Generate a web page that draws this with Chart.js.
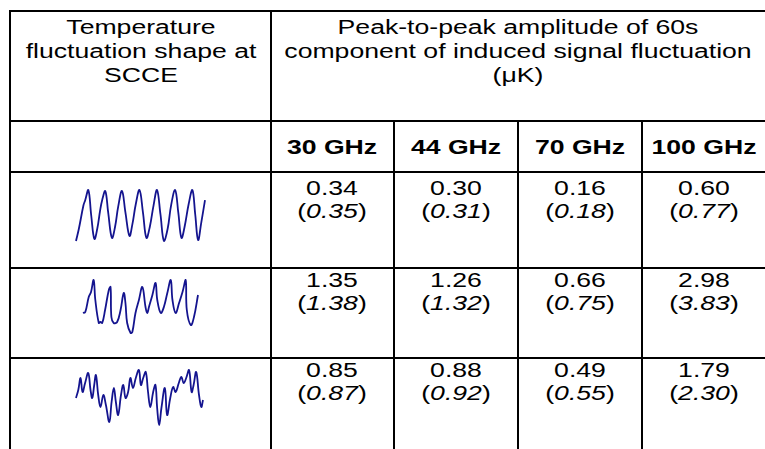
<!DOCTYPE html>
<html>
<head>
<meta charset="utf-8">
<script src="https://cdn.jsdelivr.net/npm/chart.js@4"></script>
<style>
  body { margin: 0; background: #fff; width: 765px; height: 449px; overflow: hidden; position: relative; font-family: "Liberation Sans", Arial, sans-serif; color: #000; }
  .hl { position: absolute; height: 2px; background: #000; }
  .vl { position: absolute; width: 2px; background: #000; }
  .txt { position: absolute; white-space: nowrap; font-size: 20px; line-height: 23px; transform: translate(-50%, 0) scaleX(1.33); }
  .b { font-weight: bold; }
  .wave { position: absolute; }
</style>
</head>
<body>
<div id="page"></div>
<script>
// table values (µK)
const bands = ['30 GHz', '44 GHz', '70 GHz', '100 GHz'];
const measuredA = [0.34, 0.30, 0.16, 0.60];
const modelA = [0.35, 0.31, 0.18, 0.77];
const measuredB = [1.35, 1.26, 0.66, 2.98];
const modelB = [1.38, 1.32, 0.75, 3.83];
const measuredC = [0.85, 0.88, 0.49, 1.79];
const modelC = [0.87, 0.92, 0.55, 2.30];

// temperature fluctuation shapes (time in s, temperature in arbitrary units)
const wave1Time = [0,10,26,32,43,53,64,74,84,91,102,112,125,136,147,160,172,186,196,208,221,233,245,257,270,282,294,306,319,331,345,356,367,378,392,405,415,425,436,449];
const wave1Temp = [1,13,36,41,51,26,3,13,31,41,50,29,4,15,35,50,29,6,17,37,51,29,4,15,36,51,27,1,13,36,51,29,4,15,37,51,27,2,19,41];
const wave2Time = [0,8,20,28,37,43,55,61,67,77,90,96,99,107,119,131,142,148,154,166,172,183,195,207,218,224,230,242,253,259,271,282,294,306,312,323,335,347,358,362,376,387,401];
const wave2Temp = [22,23,38,43,55,35,12,13,12,25,45,48,18,12,13,25,42,32,12,2,3,22,35,48,28,22,28,40,52,35,22,28,42,55,35,22,32,43,55,25,10,18,40];
const wave3Time = [0,8,16,23,32,43,51,57,64,70,78,86,96,105,117,125,133,140,148,158,166,174,183,191,200,210,221,228,236,245,253,261,271,279,285,292,300,312,320,331,341,350,361,370,378,387,397,406,413,422,432,440,446];
const wave3Temp = [29,37,49,35,44,54,37,29,42,52,32,20,32,22,5,25,39,25,12,32,42,29,35,49,39,49,57,42,49,55,35,20,35,42,19,2,19,39,12,29,40,35,44,50,44,49,57,35,42,55,32,20,27];

const page = document.getElementById('page');

function line(cls, left, top, len) {
  const d = document.createElement('div');
  d.className = cls;
  d.style.left = left + 'px';
  d.style.top = top + 'px';
  if (cls === 'hl') d.style.width = len + 'px'; else d.style.height = len + 'px';
  page.appendChild(d);
}

function text(html, cx, cy, bold) {
  const d = document.createElement('div');
  d.className = 'txt' + (bold ? ' b' : '');
  d.style.left = cx + 'px';
  d.style.top = (cy - 11.5) + 'px';
  d.innerHTML = html;
  page.appendChild(d);
}

// grid
line('hl', 9, 10, 756);
line('hl', 9, 120, 756);
line('hl', 9, 171, 756);
line('hl', 9, 267, 756);
line('hl', 9, 357, 756);
line('vl', 9, 10, 439);
line('vl', 270, 10, 439);
const colLines = [393, 517, 641];
colLines.forEach(x => line('vl', x, 120, 329));

// header
text('Temperature', 141, 27);
text('fluctuation shape at', 141, 51);
text('SCCE', 141, 75);
text('Peak-to-peak amplitude of 60s', 518, 27);
text('component of induced signal fluctuation', 518, 51);
text('(&mu;K)', 518, 75);

const colCenters = [332, 456, 580, 704];
bands.forEach((b, i) => text(b, colCenters[i], 147, true));

const rows = [
  [measuredA, modelA, 188],
  [measuredB, modelB, 280],
  [measuredC, modelC, 370]
];
rows.forEach(([meas, mod, y]) => {
  meas.forEach((v, i) => {
    text(v.toFixed(2), colCenters[i], y);
    text('(<i>' + mod[i].toFixed(2) + '</i>)', colCenters[i], y + 23);
  });
});

// fluctuation shapes
function wave(times, temps, left, top, w, h, ymax) {
  const pad = 3;
  const box = document.createElement('div');
  box.className = 'wave';
  box.style.left = (left - pad) + 'px';
  box.style.top = (top - pad) + 'px';
  box.style.width = (w + 2 * pad) + 'px';
  box.style.height = (h + 2 * pad) + 'px';
  const c = document.createElement('canvas');
  box.appendChild(c);
  document.body.appendChild(box);
  new Chart(c.getContext('2d'), {
    type: 'line',
    data: {
      datasets: [{
        data: times.map((t, i) => ({ x: t, y: temps[i] })),
        borderColor: '#14148f',
        borderWidth: 1.8,
        pointRadius: 0,
        tension: 0.4,
        clip: false
      }]
    },
    options: {
      animation: false,
      responsive: true,
      maintainAspectRatio: false,
      layout: { padding: pad },
      plugins: { legend: { display: false }, tooltip: { enabled: false } },
      scales: {
        x: { type: 'linear', display: false, min: 0, max: times[times.length - 1] },
        y: { display: false, min: 0, max: ymax }
      }
    }
  });
}

wave(wave1Time, wave1Temp, 76, 189, 129, 53, 52);
wave(wave2Time, wave2Temp, 83, 279, 115, 56, 56);
wave(wave3Time, wave3Temp, 76, 369, 127, 58, 58);
</script>
</body>
</html>
